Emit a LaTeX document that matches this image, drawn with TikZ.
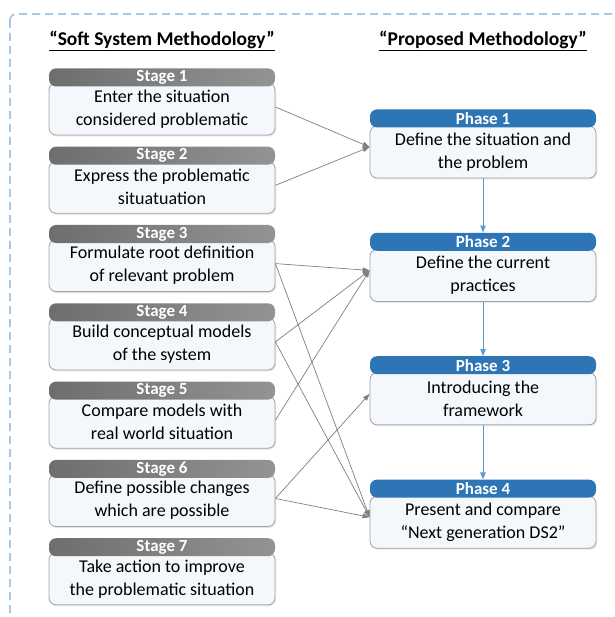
\documentclass[tikz,border=0pt]{standalone}
\usepackage{fontspec}
\setmainfont{Carlito}
\usetikzlibrary{positioning,arrows.meta,shadows}

\definecolor{stagegray}{HTML}{6E6E6E}
\definecolor{stagelight}{HTML}{939393}
\definecolor{phaseblue}{HTML}{2E75B6}
\definecolor{boxfill}{HTML}{F4F8FC}
\definecolor{boxline}{HTML}{A3A3A3}
\definecolor{linkgray}{HTML}{7F7F7F}
\definecolor{flowblue}{HTML}{5B9BD5}
\definecolor{frameblue}{HTML}{A7C9E8}

\begin{document}
\begin{tikzpicture}[x=1pt,y=-1pt,
  box/.style={draw=boxline, fill=boxfill, rounded corners=7pt, line width=0.8pt,
    minimum width=226pt, minimum height=52pt, inner sep=0pt, align=center,
    font=\fontsize{18}{23}\selectfont,
    drop shadow={shadow xshift=1pt, shadow yshift=-1.5pt, opacity=0.2}},
  head/.style={rounded corners=7pt, minimum width=226pt, minimum height=18pt,
    inner sep=0pt, text=white, font=\fontsize{17}{17}\selectfont\bfseries},
  stagehead/.style={head, left color=stagegray, right color=stagelight},
  phasehead/.style={head, fill=phaseblue},
  link/.style={draw=linkgray, line width=0.7pt, -{Triangle[length=7pt,width=5pt]}},
  flow/.style={draw=flowblue, line width=0.9pt, -{Triangle[length=7pt,width=5.5pt]}},
  title/.style={font=\fontsize{19.5}{19.5}\selectfont\bfseries}]
\useasboundingbox (0,0) rectangle (614,617);
% dashed frame, runs off the right and bottom edge
\draw[frameblue, line width=1.8pt, dash pattern=on 8pt off 5pt, rounded corners=6pt]
  (10,14) rectangle (660,660);

\node[title] (ssm) at (162,41) {\underline{“Soft System Methodology”}};
\node[title] (pm) at (483,41) {\underline{“Proposed Methodology”}};

% stages of the soft system methodology
\foreach \i/\txt in {1/{Enter the situation\\considered problematic},
    2/{Express the problematic\\situatuation},
    3/{Formulate root definition\\of relevant problem},
    4/{Build conceptual models\\of the system},
    5/{Compare models with\\real world situation},
    6/{Define possible changes\\which are possible},
    7/{Take action to improve\\the problematic situation}}{
  \pgfmathsetmacro\ytop{69+78.3*(\i-1)}
  \node[box] (s\i) at (162,\ytop+40) {\txt};
  \node[stagehead, above=-4pt of s\i.north] (s\i h) {Stage \i};
}

% phases of the proposed methodology
\foreach \i/\txt in {1/{Define the situation and\\the problem},
    2/{Define the current\\practices},
    3/{Introducing the\\framework},
    4/{Present and compare\\“Next generation DS2”}}{
  \pgfmathsetmacro\ytop{110+123.4*(\i-1)}
  \node[box] (p\i) at (483,\ytop+42) {\txt};
  \node[phasehead, above=-2pt of p\i.north] (p\i h) {Phase \i};
}

\draw[flow] (p1) -- (p2h);
\draw[flow] (p2) -- (p3h);
\draw[flow] (p3) -- (p4h);

\draw[link] ([yshift=2pt]s1.east) -- ([yshift=5pt]p1.west);
\draw[link] ([yshift=2pt]s2.east) -- ([yshift=5pt]p1.west);
\draw[link] ([yshift=2pt]s3.east) -- ([yshift=5pt]p2.west);
\draw[link] ([yshift=2pt]s3.east) -- ([yshift=5pt]p4.west);
\draw[link] ([yshift=2pt]s4.east) -- ([yshift=5pt]p2.west);
\draw[link] ([yshift=2pt]s4.east) -- ([yshift=5pt]p4.west);
\draw[link] ([yshift=2pt]s5.east) -- ([yshift=5pt]p2.west);
\draw[link] ([yshift=2pt]s6.east) -- ([yshift=5pt]p3.west);
\draw[link] ([yshift=2pt]s6.east) -- ([yshift=5pt]p4.west);
\end{tikzpicture}
\end{document}
